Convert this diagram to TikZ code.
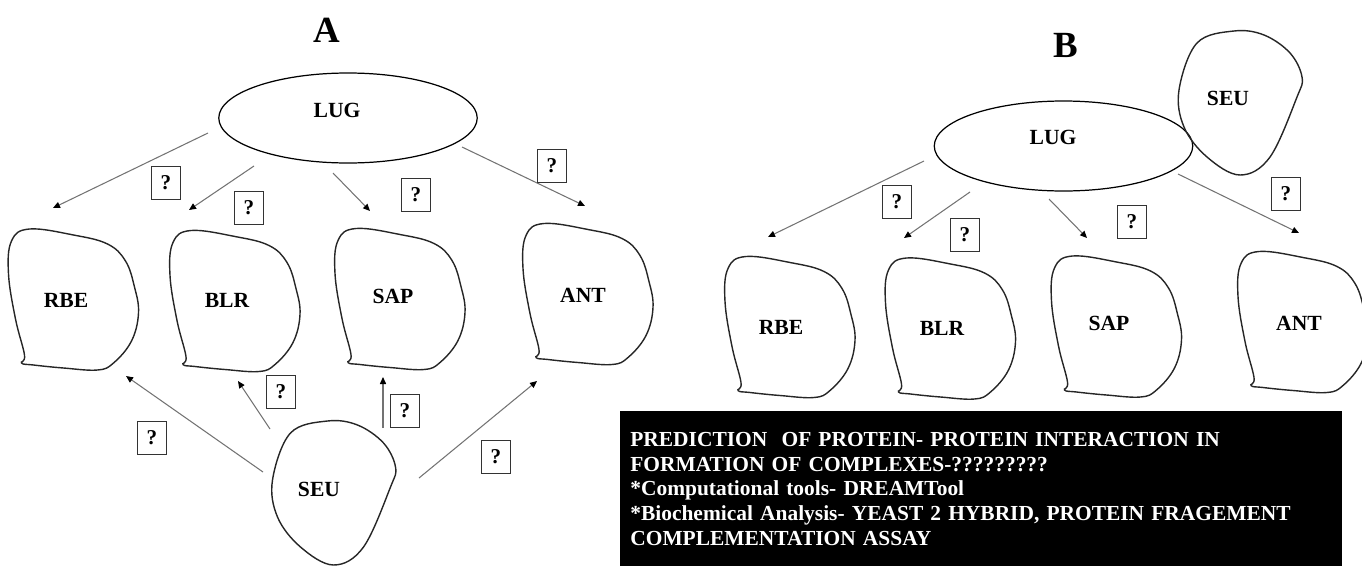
\documentclass[tikz,border=0pt]{standalone}
\usepackage{fontspec}
\setmainfont{Liberation Serif}
\usetikzlibrary{shapes.geometric,arrows.meta}

\tikzset{
  lbl/.style={font=\fontsize{12.3}{13}\selectfont\bfseries, inner sep=0pt},
  panel/.style={font=\fontsize{21}{24}\selectfont\bfseries, inner sep=0pt},
  qbox/.style={draw=black!80, line width=0.7pt, minimum width=0.58cm, minimum height=0.66cm, inner sep=0pt, font=\fontsize{12}{13}\selectfont\bfseries},
  lugshape/.style={draw, ellipse, line width=0.7pt, minimum width=5.17cm, minimum height=1.8cm, inner sep=0pt},
  arr/.style={black!55, line width=0.6pt, -{Triangle[length=4pt,width=3.5pt,black]}},
  outline/.style={draw=black!85, line width=0.8pt},
  notebox/.style={fill=black, text=white, font=\fontsize{12.2}{14}\selectfont\bfseries, align=left, text width=14.04cm, inner xsep=0.2cm, minimum width=14.44cm, minimum height=3.1cm},
  pics/cell/.style={code={
    \draw[outline] plot[smooth cycle, tension=0.65] coordinates {(-44,-70) (0,-64) (34,-55) (52,-38) (61,-12) (65,14) (58,42) (40,64) (24,71) (-10,69) (-40,66) (-52,64) (-49,56) (-58,20) (-65,-25) (-62,-58)};
  }},
  pics/drop/.style={code={
    \draw[outline] plot[smooth cycle, tension=0.6] coordinates {(-6,-72) (24,-68) (50,-50) (62,-26) (57,-6) (30,54) (0,72) (-33,54) (-56,24) (-61,-13) (-43,-60)};
  }}
}

\begin{document}
\begin{tikzpicture}[x=0.02cm, y=-0.02cm]
\clip (0,0) rectangle (1362,565);

% ---------------- panel A ----------------
\node[panel] (titleA) at (327,30) {A};

\node[lugshape] (lugA) at (348,118) {};
\node[lbl] (lugAtxt) at (337,110) {LUG};

\pic at (73.5,299) {cell};
\pic at (235,300.5) {cell};
\pic at (400,298.5) {cell};
\pic at (588,293.5) {cell};
\pic at (333.5,493) {drop};

\node[lbl] (rbeA) at (66,300) {RBE};
\node[lbl] (blrA) at (227,300) {BLR};
\node[lbl] (sapA) at (393,296) {SAP};
\node[lbl] (antA) at (583,295) {ANT};
\node[lbl] (seuA) at (319,489) {SEU};

% LUG -> targets
\coordinate (pA1) at (208,133); \coordinate (qA1) at (53,208);
\coordinate (pA2) at (254,166); \coordinate (qA2) at (189,210);
\coordinate (pA3) at (333,173); \coordinate (qA3) at (370,211);
\coordinate (pA4) at (462,147); \coordinate (qA4) at (585,206);
\draw[arr] (pA1) -- (qA1);
\draw[arr] (pA2) -- (qA2);
\draw[arr] (pA3) -- (qA3);
\draw[arr] (pA4) -- (qA4);

% SEU -> targets
\coordinate (sA1) at (263,472); \coordinate (tA1) at (126,376);
\coordinate (sA2) at (270,429); \coordinate (tA2) at (238,381);
\coordinate (sA3) at (383,428); \coordinate (tA3) at (383,377);
\coordinate (sA4) at (419,478); \coordinate (tA4) at (537,381);
\draw[arr] (sA1) -- (tA1);
\draw[arr] (sA2) -- (tA2);
\draw[arr] (sA3) -- (tA3);
\draw[arr] (sA4) -- (tA4);

\node[qbox] (qa1) at (166,183) {?};
\node[qbox] (qa2) at (249,208) {?};
\node[qbox] (qa3) at (416,195) {?};
\node[qbox] (qa4) at (552,166) {?};
\node[qbox] (qa5) at (152,438) {?};
\node[qbox] (qa6) at (281,392) {?};
\node[qbox] (qa7) at (405,411) {?};
\node[qbox] (qa8) at (496,457) {?};

% ---------------- panel B ----------------
\node[panel] (titleB) at (1066,45) {B};

\node[lugshape] (lugB) at (1063.5,146) {};
\node[lbl] (lugBtxt) at (1053,137) {LUG};

\pic at (790,326.5) {cell};
\pic at (950.5,328) {cell};
\pic at (1116.5,326) {cell};
\pic at (1303,321.5) {cell};
\pic at (1240,103) {drop};

\node[lbl] (rbeB) at (781,327) {RBE};
\node[lbl] (blrB) at (942,328) {BLR};
\node[lbl] (sapB) at (1109,323) {SAP};
\node[lbl] (antB) at (1299,323) {ANT};
\node[lbl] (seuB) at (1228,98) {SEU};

\coordinate (pB1) at (924,161);  \coordinate (qB1) at (768,237);
\coordinate (pB2) at (970,192);  \coordinate (qB2) at (904,238);
\coordinate (pB3) at (1049,199); \coordinate (qB3) at (1087,238);
\coordinate (pB4) at (1178,174); \coordinate (qB4) at (1299,233);
\draw[arr] (pB1) -- (qB1);
\draw[arr] (pB2) -- (qB2);
\draw[arr] (pB3) -- (qB3);
\draw[arr] (pB4) -- (qB4);

\node[qbox] (qb1) at (897,202) {?};
\node[qbox] (qb2) at (965,235) {?};
\node[qbox] (qb3) at (1132,222) {?};
\node[qbox] (qb4) at (1286,194) {?};

% note box
\node[notebox, anchor=north west] (note) at (620,411) {PREDICTION\ \ OF PROTEIN- PROTEIN INTERACTION IN\\FORMATION OF COMPLEXES-?????????\\{}*Computational tools- DREAMTool\\{}*Biochemical Analysis- YEAST 2 HYBRID, PROTEIN FRAGEMENT\\COMPLEMENTATION ASSAY};

\end{tikzpicture}
\end{document}
